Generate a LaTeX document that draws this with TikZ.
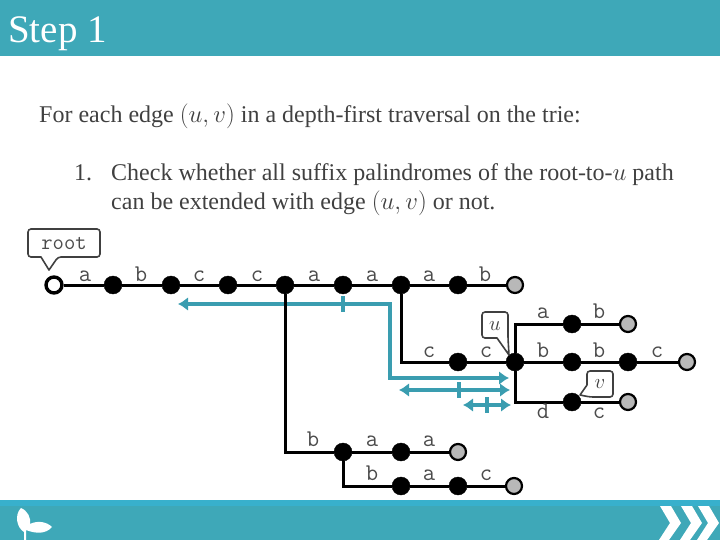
\documentclass[tikz,border=0pt]{standalone}
\usepackage{fontspec}
\usepackage{amsmath}
\setmainfont{Liberation Serif}
\definecolor{barteal}{HTML}{3EA8B8}
\definecolor{stripteal}{HTML}{38B0CC}
\definecolor{arrowteal}{HTML}{3A9DB0}
\definecolor{bodygray}{HTML}{404040}
\usetikzlibrary{arrows.meta}
\begin{document}
\begin{tikzpicture}[x=1pt,y=-1pt,
      vtx/.style={circle,fill=black,draw=black,inner sep=0pt,minimum size=18pt},
      rootvtx/.style={circle,fill=white,draw=black,line width=3.4pt,inner sep=0pt,minimum size=16pt},
      leaf/.style={circle,fill=black!28,draw=black,line width=2.2pt,inner sep=0pt,minimum size=16pt},
      edge/.style={line width=3pt,black},
      lab/.style={font=\ttfamily\fontsize{24}{24}\selectfont,text=black!70,inner sep=0pt,anchor=base},
      spanboth/.style={line width=4pt,arrowteal,{Latex[length=10pt,width=14pt]}-{Latex[length=10pt,width=14pt]}},
      tick/.style={line width=4pt,arrowteal},
      bubble/.style={draw=black!75,fill=white,line width=1.6pt,rounded corners=3pt,line join=round},
      body/.style={font=\fontsize{24}{29}\selectfont,text=bodygray,anchor=base west,inner sep=0pt}]
  \useasboundingbox (0,0) rectangle (720,540);
  % bars
  \fill[barteal] (0,0) rectangle (720,56);
  \fill[barteal] (0,500) rectangle (720,540);
  \fill[stripteal] (0,500) rectangle (720,506);
  \node[font=\fontsize{39}{39}\selectfont,text=white,anchor=base west,inner sep=0pt] (title) at (8,43) {Step 1};
  % leaf and chevrons
  \fill[white] (24,540) -- (24,532) .. controls (17,528) and (14,515) .. (21,508) .. controls (28,511) and (31,518) .. (30,524) .. controls (38,520) and (47,522) .. (52,527) .. controls (46,534) and (36,534) .. (26,530) -- (26,540) -- cycle;
  \foreach \x in {660,681,698} {
    \fill[white] (\x,506) -- (\x+11,506) -- (\x+21,523) -- (\x+9,540) -- (\x-1,540) -- (\x+10,523) -- cycle;
  }
  % text
  \node[body] (line1) at (39,123) {For each edge $(u,v)$ in a depth-first traversal on the trie:};
  \node[body] (num1) at (74,181) {1.};
  \node[body] (line2) at (111,181) {Check whether all suffix palindromes of the root-to-$u$ path};
  \node[body] (line3) at (111,210) {can be extended with edge $(u,v)$ or not.};
  % spans
  \coordinate (s1a) at (178,304);
  \coordinate (s1b) at (390,304);
  \coordinate (s1c) at (390,378);
  \coordinate (s1d) at (509,378);
  \draw[spanboth] (s1a) -- (s1b) -- (s1c) -- (s1d);
  \coordinate (t1a) at (343,296);
  \coordinate (t1b) at (343,312);
  \draw[tick] (t1a) -- (t1b);
  \coordinate (s2a) at (399,390);
  \coordinate (s2b) at (510,390);
  \draw[spanboth] (s2a) -- (s2b);
  \coordinate (t2a) at (459,382);
  \coordinate (t2b) at (459,398);
  \draw[tick] (t2a) -- (t2b);
  \coordinate (s3a) at (463,405);
  \coordinate (s3b) at (511,405);
  \draw[spanboth] (s3a) -- (s3b);
  \coordinate (t3a) at (487,397);
  \coordinate (t3b) at (487,413);
  \draw[tick] (t3a) -- (t3b);
  % main path
  \node[rootvtx] (r) at (54,285) {};
  \foreach \name/\x in {n1/113,n2/171,n3/228,n4/285,n5/343,n6/401,n7/458} {
    \node[vtx] (\name) at (\x,285) {};
  }
  \node[leaf] (n8) at (515,285) {};
  \node[vtx] (c1) at (458,362) {};
  \node[vtx] (uu) at (515,362) {};
  \node[vtx] (p1) at (572,324) {};
  \node[leaf] (p2) at (628,324) {};
  \node[vtx] (s1) at (572,362) {};
  \node[vtx] (s2) at (628,362) {};
  \node[leaf] (s3) at (687,362) {};
  \node[vtx] (vv) at (572,402) {};
  \node[leaf] (q2) at (628,402) {};
  \node[vtx] (t1) at (343,452) {};
  \node[vtx] (t2) at (401,452) {};
  \node[leaf] (t3) at (458,452) {};
  \node[vtx] (w1) at (401,486) {};
  \node[vtx] (w2) at (458,486) {};
  \node[leaf] (w3) at (514,486) {};
  % edges
  \draw[edge] (r) -- (n1) -- (n2) -- (n3) -- (n4) -- (n5) -- (n6) -- (n7) -- (n8);
  \draw[edge] (n6) |- (c1);
  \draw[edge] (c1) -- (uu) -- (s1) -- (s2) -- (s3);
  \draw[edge] (uu) |- (p1);
  \draw[edge] (p1) -- (p2);
  \draw[edge] (uu) |- (vv);
  \draw[edge] (vv) -- (q2);
  \draw[edge] (n4) |- (t1);
  \draw[edge] (t1) -- (t2) -- (t3);
  \draw[edge] (t1) |- (w1);
  \draw[edge] (w1) -- (w2) -- (w3);
  % edge letters
  \foreach \x/\y/\txt in {85/281/a,141/281/b,199/281/c,257/281/c,314/281/a,372/281/a,429/281/a,485/281/b,
      543/318/a,599/318/b,429/357/c,486/357/c,543/357/b,599/357/b,657/357/c,543/418/d,599/418/c,
      313/446/b,372/446/a,429/446/a,372/480/b,429/480/a,486/480/c} {
    \node[lab] at (\x,\y) {\txt};
  }
  % bubbles
  \draw[bubble] (28,229) -- (100,229) -- (100,257) -- (58,257) [sharp corners] -- (49,270) -- (41,257) [rounded corners=3pt] -- (28,257) -- cycle;
  \node[font=\ttfamily\fontsize{22}{22}\selectfont,text=black!70,inner sep=0pt] (rootlab) at (64,243) {root};
  \draw[bubble] (482,312) -- (508,312) -- (508,338) [sharp corners] -- (509,355) -- (497,338) [rounded corners=3pt] -- (482,338) -- cycle;
  \node[text=black!75,font=\fontsize{22}{22}\selectfont,inner sep=0pt] (ulab) at (495,326) {$u$};
  \draw[bubble] (587,371) -- (613,371) -- (613,397) -- (590,397) [sharp corners] -- (580,395) -- (587,385) [rounded corners=3pt] -- cycle;
  \node[text=black!75,font=\fontsize{22}{22}\selectfont,inner sep=0pt] (vlab) at (600,384) {$v$};
\end{tikzpicture}
\end{document}
